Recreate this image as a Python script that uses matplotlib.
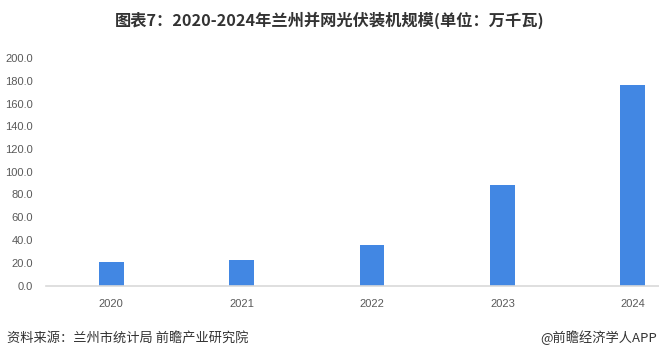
import matplotlib
matplotlib.use("Agg")
import matplotlib.pyplot as plt

years = ["2020", "2021", "2022", "2023", "2024"]
capacity = [20.7, 22.4, 35.6, 88.4, 176.3]
yticks = [0, 20, 40, 60, 80, 100, 120, 140, 160, 180, 200]

plt.rcParams["font.family"] = ["Noto Sans CJK SC", "DejaVu Sans"]

W, H = 659, 358
fig = plt.figure(figsize=(W / 100, H / 100), dpi=100)

# axes run past the right edge, like the reference crop
left, right = 46, 698
bottom, top = 285.5, 58
ax = fig.add_axes([left / W, 1 - bottom / H, (right - left) / W, (bottom - top) / H])

x = range(len(years))
ax.bar(x, capacity, width=0.19, color="#4287e3", zorder=2)
ax.set_xlim(-0.5, len(years) - 0.5)
ax.set_ylim(0, 200)

ax.set_yticks(yticks)
ax.set_yticklabels([f"{v:.1f}" for v in yticks], fontsize=8, color="#595959",
                   family="Liberation Sans")
ax.set_xticks(list(x))
ax.set_xticklabels(years, fontsize=8, color="#595959", family="Liberation Sans")
ax.tick_params(axis="both", length=0)
ax.tick_params(axis="y", pad=9.4)
ax.tick_params(axis="x", pad=9.5)

for side in ("top", "right", "left"):
    ax.spines[side].set_visible(False)
ax.spines["bottom"].set_color("#d9d9d9")
ax.spines["bottom"].set_linewidth(1.2)

fig.text(330 / W, 1 - 20 / H, "图表7：2020-2024年兰州并网光伏装机规模(单位：万千瓦)",
         ha="center", va="center", fontsize=11.7, fontweight="bold", color="#333333")
fig.text(7 / W, 1 - 338 / H, "资料来源：兰州市统计局 前瞻产业研究院",
         ha="left", va="center", fontsize=9.5, color="#333333")
fig.text(657 / W, 1 - 338 / H, "@前瞻经济学人APP",
         ha="right", va="center", fontsize=9.5, color="#333333")

fig.savefig("out.png", dpi=100)
